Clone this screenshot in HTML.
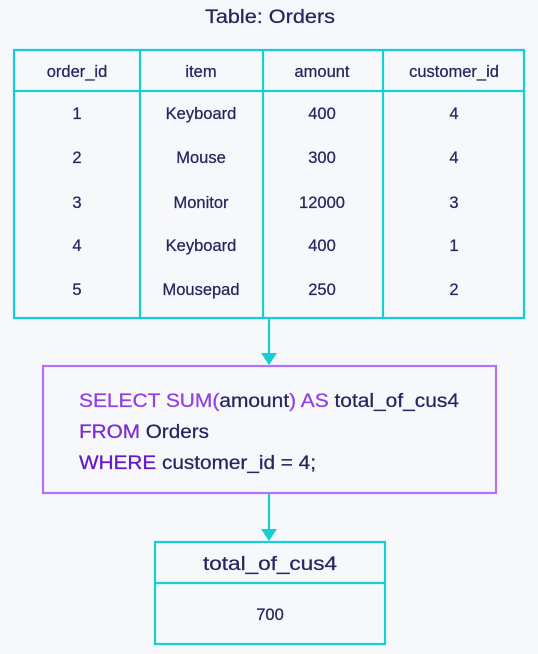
<!DOCTYPE html>
<html><head><style>
html,body{margin:0;padding:0;background:#f7f8fc;}
svg{display:block;}
text{font-family:"Liberation Sans",sans-serif;fill:#25265e;stroke:#25265e;stroke-width:0.25;}
</style></head><body>
<svg width="538" height="654" viewBox="0 0 538 654" xmlns="http://www.w3.org/2000/svg">
<rect width="538" height="654" fill="#f7f8fc"/>
<text x="270" y="23" font-size="19" text-anchor="middle" textLength="130" lengthAdjust="spacingAndGlyphs">Table: Orders</text>
<g stroke="#13cfd6" stroke-width="2.2" fill="none">
<rect x="14" y="50" width="510" height="268"/>
<line x1="14" y1="91" x2="524" y2="91"/>
<line x1="140" y1="50" x2="140" y2="318"/>
<line x1="263" y1="50" x2="263" y2="318"/>
<line x1="383" y1="50" x2="383" y2="318"/>
<line x1="269" y1="318" x2="269" y2="355"/>
<line x1="269" y1="494" x2="269" y2="530"/>
<rect x="155" y="542" width="230" height="102"/>
<line x1="155" y1="583" x2="385" y2="583"/>
</g>
<polygon points="261,353 277,353 269,365" fill="#13cfd6"/>
<polygon points="261,529 277,529 269,541" fill="#13cfd6"/>
<rect x="43" y="366" width="453" height="127" fill="none" stroke="#b273f2" stroke-width="2.2"/>
<g font-size="16.5" text-anchor="middle">
<text x="77" y="77">order_id</text><text x="201" y="77">item</text><text x="322" y="77">amount</text><text x="454" y="77">customer_id</text>
<text x="77" y="119">1</text><text x="201" y="119">Keyboard</text><text x="322" y="119">400</text><text x="454" y="119">4</text>
<text x="77" y="163">2</text><text x="201" y="163">Mouse</text><text x="322" y="163">300</text><text x="454" y="163">4</text>
<text x="77" y="208">3</text><text x="201" y="208">Monitor</text><text x="322" y="208">12000</text><text x="454" y="208">3</text>
<text x="77" y="251">4</text><text x="201" y="251">Keyboard</text><text x="322" y="251">400</text><text x="454" y="251">1</text>
<text x="77" y="295">5</text><text x="201" y="295">Mousepad</text><text x="322" y="295">250</text><text x="454" y="295">2</text>
<text x="270" y="570" font-size="19" textLength="134" lengthAdjust="spacingAndGlyphs">total_of_cus4</text>
<text x="270" y="620">700</text>
</g>
<g font-size="19">
<text x="79" y="407" textLength="380" lengthAdjust="spacingAndGlyphs"><tspan fill="#9040e4" stroke="#9040e4">SELECT SUM(</tspan>amount<tspan fill="#9040e4" stroke="#9040e4">) AS</tspan> total_of_cus4</text>
<text x="79" y="438" textLength="130" lengthAdjust="spacingAndGlyphs"><tspan fill="#7a2ad6" stroke="#7a2ad6">FROM</tspan> Orders</text>
<text x="79" y="469" textLength="237" lengthAdjust="spacingAndGlyphs"><tspan fill="#6418c8" stroke="#6418c8">WHERE</tspan> customer_id = 4;</text>
</g>
</svg>
</body></html>
